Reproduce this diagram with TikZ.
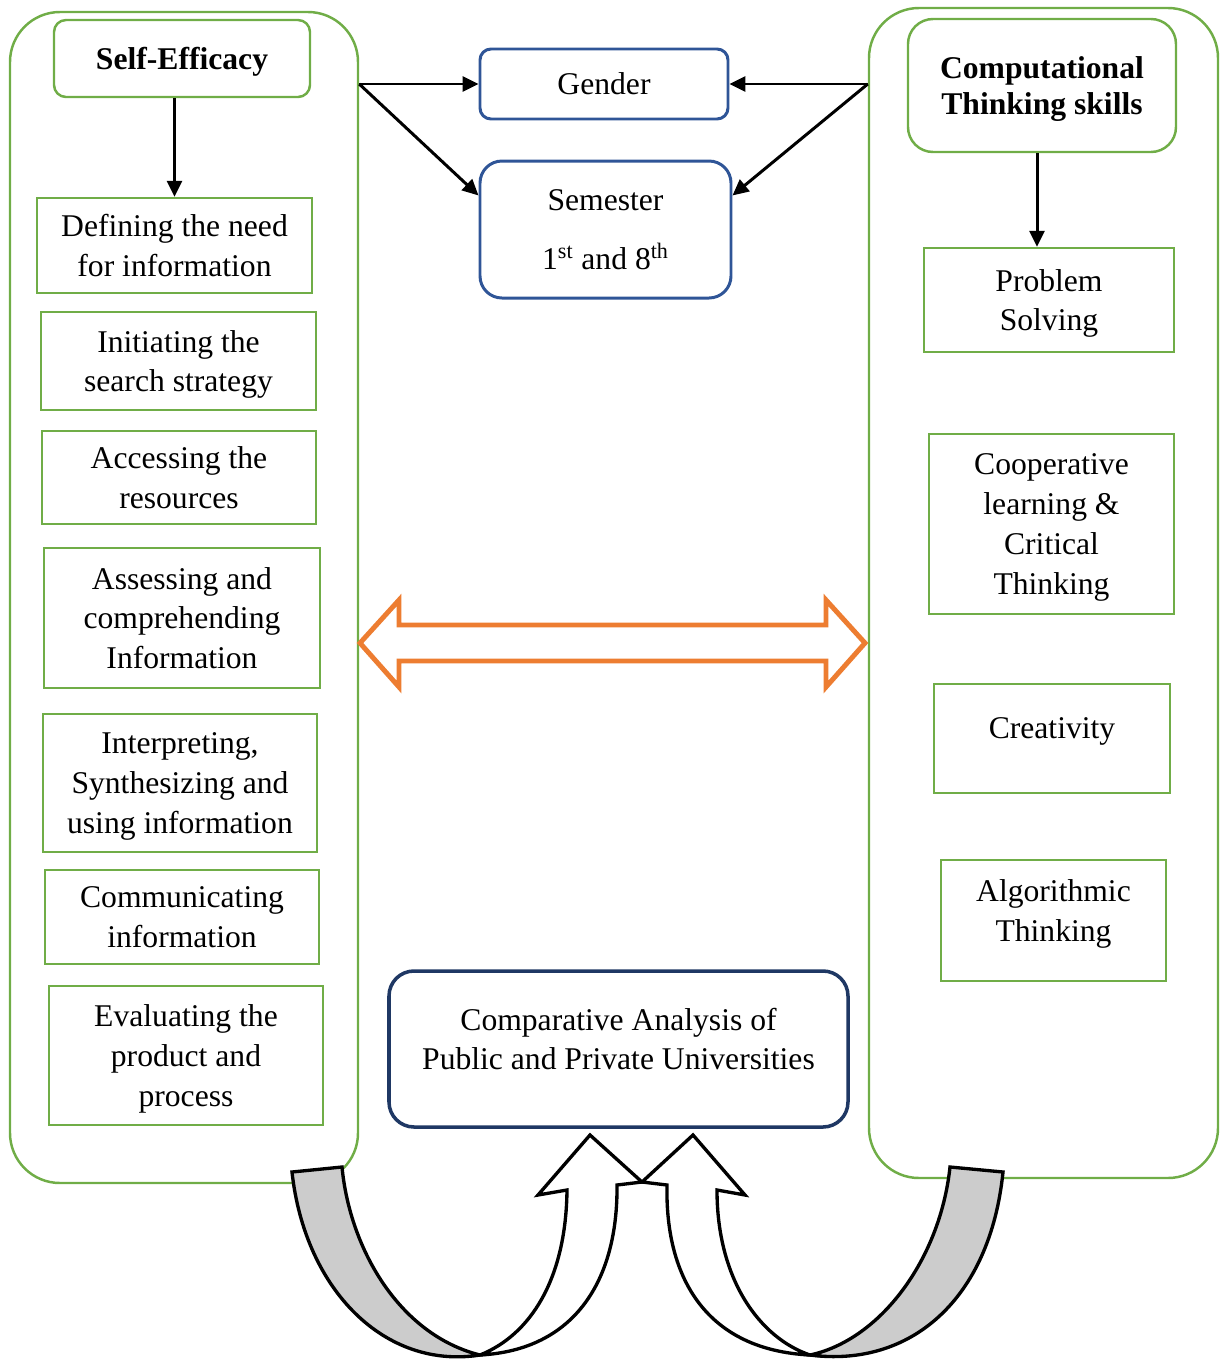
\documentclass[tikz,border=0pt]{standalone}
\usepackage{fontspec}
\setmainfont{Liberation Serif}
\usetikzlibrary{arrows.meta}
\definecolor{leafgreen}{RGB}{112,173,71}
\definecolor{midblue}{RGB}{47,85,151}
\definecolor{deepnavy}{RGB}{31,56,100}
\definecolor{carrot}{RGB}{237,125,49}

\begin{document}
\begin{tikzpicture}[
    x=0.02cm, y=-0.02cm,
    font=\fontsize{18}{22.7}\selectfont,
    panel/.style 2 args = {draw=leafgreen, line width=1.4pt, rounded corners=1cm,
        minimum width=#1*0.02cm, minimum height=#2*0.02cm},
    skill/.style 2 args = {draw=leafgreen, line width=1.4pt, align=center, inner sep=2pt,
        text depth=-2.5pt, minimum width=#1*0.02cm, minimum height=#2*0.02cm},
    head/.style = {font=\fontsize{18}{20}\selectfont\bfseries},
    factor/.style 2 args = {draw=midblue, line width=1.7pt, align=center,
        minimum width=#1*0.02cm, minimum height=#2*0.02cm},
    link/.style = {-{Triangle[length=0.32cm,width=0.3cm]}, line width=1.7pt},
    bendback/.style = {draw=black, fill=gray!40, line width=1.9pt},
    bendfront/.style = {draw=black, fill=white, line width=1.9pt}
     ]
  \useasboundingbox (0,0) rectangle (1224,1360);

  % the two panels
  \node[panel={348}{1171}] (lpanel) at (184,597.5) {};
  \node[panel={349}{1170}] (rpanel) at (1043.5,593) {};

  % left column
  \node[skill={256}{77}, head, rounded corners=0.24cm] (se) at (182,58.5) {Self-Efficacy};
  \node[skill={275}{95}] (def) at (174.5,245.5) {Defining the need\\for information};
  \node[skill={275}{98}] (init) at (178.5,361) {Initiating the\\search strategy};
  \node[skill={274}{93}] (acc) at (179,477.5) {Accessing the\\resources};
  \node[skill={276}{140}] (assess) at (182,618) {Assessing and\\comprehending\\Information};
  \node[skill={274}{138}] (interp) at (180,783) {Interpreting,\\Synthesizing and\\using information};
  \node[skill={274}{94}] (comm) at (182,917) {Communicating\\information};
  \node[skill={274}{139}] (eval) at (186,1055.5) {Evaluating the\\product and\\process};

  % right column
  \node[skill={268}{133}, head, rounded corners=0.5cm] (ct) at (1042,85.5) {Computational\\Thinking skills};
  \node[skill={250}{104}] (ps) at (1049,300) {Problem\\Solving};
  \node[skill={245}{180}] (coop) at (1051.5,524) {Cooperative\\learning \&\\Critical\\Thinking};
  \node[skill={236}{109}, text depth=11.6pt] (creat) at (1052,738.5) {Creativity};
  \node[skill={225}{121}, text depth=11.6pt] (algo) at (1053.5,920.5) {Algorithmic\\Thinking};

  % middle
  \node[factor={248}{70}, rounded corners=0.22cm] (gender) at (604,84) {Gender};
  \node[factor={251}{137}, rounded corners=0.44cm] (sem) at (605.5,229.5)
      {Semester\\[11pt]1\textsuperscript{st} and 8\textsuperscript{th}};
  \node[factor={459}{156}, draw=deepnavy, line width=2pt, rounded corners=0.5cm,
      text depth=11.5pt] (comp) at (618.5,1049)
      {Comparative Analysis of\\Public and Private Universities};

  \draw[link] (def.north |- se.south) -- (def.north);
  \draw[link] ([xshift=-0.1cm]ct.south) -- ([xshift=-0.1cm]ct.south |- ps.north);
  \draw[link] (lpanel.east |- gender.west) -- (gender.west);
  \draw[link] (lpanel.east |- gender.west) -- (sem.165);
  \draw[link] (rpanel.west |- gender.east) -- (gender.east);
  \draw[link] (rpanel.west |- gender.east) -- (sem.15);

  % double block arrow
  \draw[carrot, line width=2.8pt, fill=white] (360,643) -- (399,600) -- (399,625)
      -- (826,625) -- (826,600) -- (865,643) -- (826,687) -- (826,661)
      -- (399,661) -- (399,687) -- cycle;

  % curved up arrows
  \filldraw[bendback] (292,1172) -- (342,1167)
      .. controls (350,1250) and (400,1335) .. (480,1355)
      .. controls (385,1370) and (305,1290) .. (292,1172) -- cycle;
  \filldraw[bendfront] (480,1355) .. controls (575,1350) and (618,1280) .. (617,1185)
      -- (642,1182) -- (590,1135) -- (538,1195) -- (567,1190)
      .. controls (566,1280) and (530,1335) .. (480,1355) -- cycle;
  \filldraw[bendback] (950,1167) -- (1003,1172)
      .. controls (990,1300) and (910,1368) .. (810,1355)
      .. controls (880,1340) and (940,1260) .. (950,1167) -- cycle;
  \filldraw[bendfront] (810,1355) .. controls (708,1350) and (665,1280) .. (667,1185)
      -- (642,1182) -- (693,1135) -- (745,1195) -- (717,1190)
      .. controls (717,1280) and (760,1338) .. (810,1355) -- cycle;
\end{tikzpicture}
\end{document}
